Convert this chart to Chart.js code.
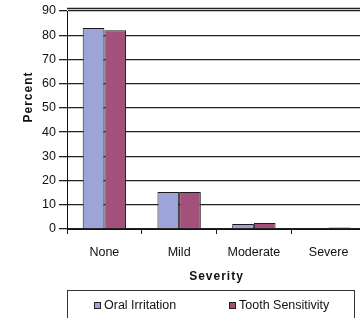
<!DOCTYPE html>
<html>
<head>
<meta charset="utf-8">
<script src="https://cdn.jsdelivr.net/npm/chart.js@4.4.1/dist/chart.umd.min.js"></script>
<style>
html, body { margin: 0; padding: 0; background: #fff; overflow: hidden; }
#wrap { width: 366px; height: 318px; }
</style>
</head>
<body>
<div id="wrap"><canvas id="chart" width="366" height="318"></canvas></div>
<script>
const categories = ['None', 'Mild', 'Moderate', 'Severe'];
const oralIrritation = [83, 15.3, 2.1, 0];
const toothSensitivity = [82.1, 15.3, 2.5, 0.6];
const yTicks = [0, 10, 20, 30, 40, 50, 60, 70, 80, 90];
const seriesNames = ['Oral Irritation', 'Tooth Sensitivity'];
const seriesColors = ['#9da5d8', '#a3507a'];
const xTitle = 'Severity';
const yTitle = 'Percent';

const FONT = '"Liberation Sans", Arial, sans-serif';
Chart.defaults.font.family = FONT;
Chart.defaults.font.size = 12.5;
Chart.defaults.color = '#111';

// second line just above the top gridline, like the original frame
const TopBorderPlugin = {
	id: 'topBorder',
	beforeDatasetsDraw: (chart) => {
		const { ctx, chartArea } = chart;
		ctx.save();
		ctx.strokeStyle = '#222';
		ctx.lineWidth = 1.3;
		ctx.beginPath();
		ctx.moveTo(chartArea.left, chartArea.top - 2.5);
		ctx.lineTo(chartArea.right, chartArea.top - 2.5);
		ctx.stroke();
		ctx.restore();
	}
}

const AxisTitlePlugin = {
	id: 'axisTitles',
	afterDraw: (chart) => {
		const { ctx, chartArea } = chart;
		ctx.save();
		ctx.fillStyle = '#111';
		ctx.font = 'bold 12px ' + FONT;
		ctx.letterSpacing = '1px';
		ctx.textAlign = 'center';
		ctx.textBaseline = 'middle';
		ctx.fillText(xTitle, (chartArea.left + chartArea.right) / 2, chartArea.bottom + 48);
		ctx.translate(29, 97);
		ctx.rotate(-Math.PI / 2);
		ctx.fillText(yTitle, 0, 0);
		ctx.restore();
	}
}

const LegendBoxPlugin = {
	id: 'legendBox',
	afterDraw: (chart) => {
		const { ctx, chartArea } = chart;
		const top = 290;
		const right = 354;
		const itemX = [94, 229];
		ctx.save();
		ctx.strokeStyle = '#333';
		ctx.lineWidth = 1;
		ctx.strokeRect(chartArea.left + 0.5, top + 0.5, right - chartArea.left, 40);
		ctx.font = '12.5px ' + FONT;
		ctx.textBaseline = 'middle';
		chart.data.datasets.forEach((ds, i) => {
			ctx.fillStyle = ds.backgroundColor;
			ctx.fillRect(itemX[i], 302, 7, 7);
			ctx.strokeStyle = '#222';
			ctx.strokeRect(itemX[i] + 0.5, 302.5, 6, 6);
			ctx.fillStyle = '#111';
			ctx.fillText(ds.label, itemX[i] + 10, 306);
		});
		ctx.restore();
	}
}

new Chart(document.getElementById('chart'), {
	type: 'bar',
	data: {
		labels: categories,
		datasets: [
			{
				label: seriesNames[0],
				data: oralIrritation,
				backgroundColor: seriesColors[0],
				borderColor: '#1a1a1a',
				borderWidth: 1
			},
			{
				label: seriesNames[1],
				data: toothSensitivity,
				backgroundColor: seriesColors[1],
				borderColor: '#1a1a1a',
				borderWidth: 1
			}
		]
	},
	options: {
		responsive: false,
		animation: false,
		events: [],
		categoryPercentage: 0.58,
		barPercentage: 1,
		layout: {
			padding: { top: 11, right: 0, bottom: 59, left: 0 }
		},
		plugins: {
			legend: { display: false },
			tooltip: { enabled: false }
		},
		scales: {
			x: {
				grid: {
					drawOnChartArea: false,
					drawTicks: true,
					tickLength: 5,
					color: '#222',
					offset: true
				},
				border: { color: '#111', width: 1 },
				ticks: { padding: 11 },
				afterFit: (scale) => { scale.height = 30; }
			},
			y: {
				min: 0,
				max: 90,
				afterBuildTicks: (scale) => {
					scale.ticks = yTicks.map((v) => ({ value: v }));
				},
				ticks: { padding: 3 },
				grid: { color: '#222', lineWidth: 1.3, tickLength: 8 },
				border: { color: '#111', width: 1 },
				afterFit: (scale) => { scale.width = 67; }
			}
		}
	},
	plugins: [TopBorderPlugin, AxisTitlePlugin, LegendBoxPlugin]
});
</script>
</body>
</html>
